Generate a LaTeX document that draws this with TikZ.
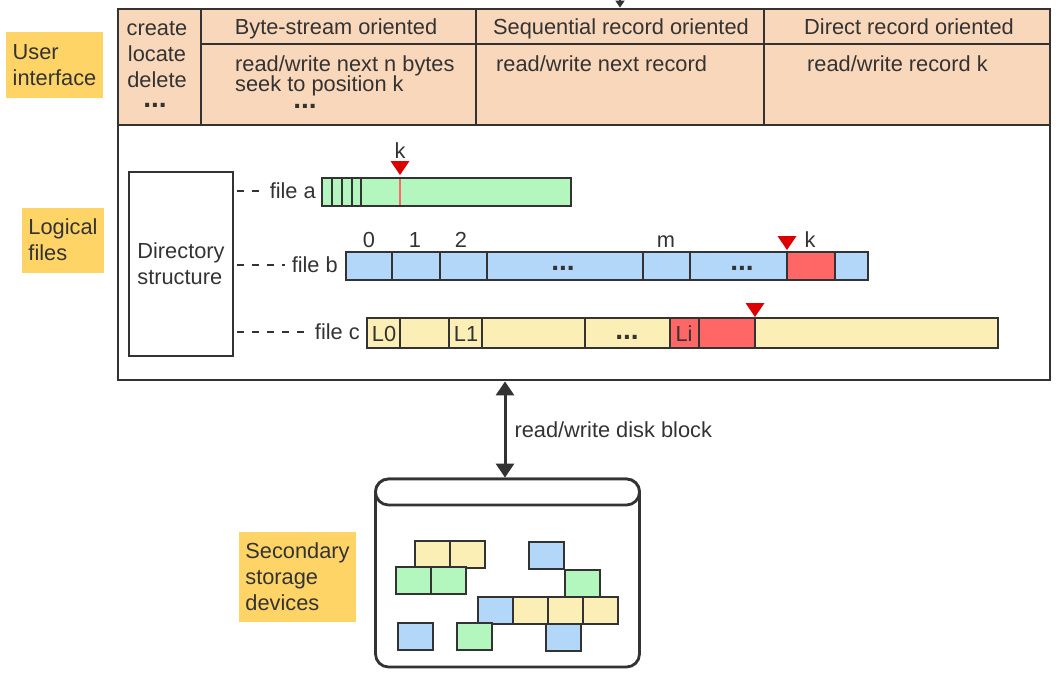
\documentclass[tikz,border=0pt]{standalone}
\usepackage{fontspec}
\setmainfont{Liberation Sans}
\usetikzlibrary{arrows.meta}
\definecolor{ink}{HTML}{333333}
\definecolor{peach}{HTML}{F9D7BA}
\definecolor{tagcol}{HTML}{FFD466}
\definecolor{gcell}{HTML}{B3F7BF}
\definecolor{bcell}{HTML}{B3D7F8}
\definecolor{ycell}{HTML}{FCEFB5}
\definecolor{rcell}{HTML}{FF6666}
\definecolor{pointer}{HTML}{DD0000}

\begin{document}
\begin{tikzpicture}[x=1pt, y=-1pt,
      > = {Triangle[width=18pt,length=14pt]},
  txt/.style = {font=\fontsize{21.8}{26}\selectfont, text=ink, inner sep=0pt},
ellip/.style = {font=\fontsize{28}{28}\bfseries\selectfont, text=ink, inner sep=0pt},
  tag/.style = {txt, fill=tagcol, align=left},
  box/.style = {draw=ink, line width=2.8pt},
 cell/.style = {draw=ink, line width=2.8pt},
 link/.style = {draw=ink, line width=2pt, dash pattern=on 7pt off 8pt},
  ptr/.style = {fill=pointer}
                   ]
\useasboundingbox (0,0) rectangle (1063,685);
% user interface
\fill[peach] (118,9) rectangle (1050,125);
\node[box, minimum width=932pt, minimum height=371pt, inner sep=0pt] (logic) at (584,194.5) {};
\draw[box] (118,125) -- (1050,125);
\draw[box] (201,44) -- (1050,44);
\foreach \x in {201,476,764} \draw[box] (\x,9) -- (\x,125);
\coordinate (top) at (620,-10);
\draw[ink, line width=2pt, -{Triangle[width=9pt,length=7pt]}] (top) -- (top |- logic.north);
\node[txt, anchor=base, align=center] (ops) at (157,87.5) {create\\locate\\delete};% base = last line
\node[ellip, anchor=base] (opsdots) at (155,107.5) {...};
\node[txt, anchor=base] (bytes) at (336,34.5) {Byte-stream oriented};
\node[txt, anchor=base] (seq) at (621,34.5) {Sequential record oriented};
\node[txt, anchor=base] (direct) at (909,34.5) {Direct record oriented};
\node[txt, anchor=base west] (bytesops) at (235,71) {read/write next n bytes};
\node[txt, anchor=base west] (seek) at (235,91.5) {seek to position k};
\node[ellip, anchor=base] (bytedots) at (305,108) {...};
\node[txt, anchor=base west] (seqops) at (496,71) {read/write next record};
\node[txt, anchor=base west] (directops) at (807,71) {read/write record k};
% layer tags
\node[tag, minimum width=97pt, minimum height=65pt] (ui) at (54.5,65) {User\\interface};
\node[tag, minimum width=82pt, minimum height=65pt] (lf) at (63,240) {Logical\\files};
\node[tag, minimum width=117pt, minimum height=90pt] (ssd) at (297.5,576.5) {Secondary\\storage\\devices};
% logical files
\node[box, txt, align=left, minimum width=104pt, minimum height=184pt] (dir) at (181,264) {Directory\\structure};
% file a
\fill[gcell] (322,178) rectangle (571,206);
\foreach \x in {332,342,352,361} \draw[cell] (\x,178) -- (\x,206);
\draw[rcell, line width=2.5pt] (400,178) -- (400,206);
\draw[cell] (322,178) rectangle (571,206);
\fill[ptr] (390.5,161) -- (409.5,161) -- (400,175) -- cycle;
\node[txt, anchor=base] (ka) at (400,158) {k};
\node[txt, anchor=east] (fa) at (316,191) {file a};
\draw[link, shorten <=3pt, shorten >=7pt] (dir.east |- fa.west) -- (fa.west);
% file b
\fill[bcell] (346,252) rectangle (868,280);
\fill[rcell] (787,252) rectangle (835,280);
\foreach \x in {392,440,487,643,690,787,835} \draw[cell] (\x,252) -- (\x,280);
\draw[cell] (346,252) rectangle (868,280);
\foreach \x/\t in {369/0,415/1,461/2,666/m,810/k} \node[txt, anchor=base] (b\t) at (\x,247) {\t};
\node[ellip, anchor=base] (bdots1) at (563,270) {...};
\node[ellip, anchor=base] (bdots2) at (742,270) {...};
\fill[ptr] (777.5,236) -- (796.5,236) -- (787,250) -- cycle;
\node[txt, anchor=east] (fb) at (338,265) {file b};
\draw[link, shorten <=3pt, shorten >=7pt] (dir.east |- fb.west) -- (fb.west);
% file c
\fill[ycell] (367,318) rectangle (998,348);
\fill[rcell] (670,318) rectangle (755,348);
\foreach \x in {400,449,482,585,670,699,755} \draw[cell] (\x,318) -- (\x,348);
\draw[cell] (367,318) rectangle (998,348);
\foreach \x/\t in {384/L0,466/L1,684/Li} \node[txt, anchor=base] (c\t) at (\x,341) {\t};
\node[ellip, anchor=base] (cdots) at (627,339.5) {...};
\fill[ptr] (745.5,303) -- (764.5,303) -- (755,317) -- cycle;
\node[txt, anchor=east] (fc) at (360,332) {file c};
\draw[link, shorten <=3pt, shorten >=10pt] (dir.east |- fc.west) -- (fc.west);
% secondary storage
\node[box, rounded corners=13pt, minimum width=264pt, minimum height=188pt, inner sep=0pt] (disk) at (507.5,573) {};
\node[box, fill=white, rounded corners=13pt, minimum width=264pt, minimum height=26pt, inner sep=0pt] (lid) at (507.5,492) {};
\foreach \x/\y/\c in {415/541/ycell, 450/541/ycell, 396/567/gcell, 431/567/gcell,
                      529/542/bcell, 565/570/gcell,
                      478/597/bcell, 513/597/ycell, 548/597/ycell, 583/597/ycell,
                      398/623/bcell, 457/623/gcell, 546/624/bcell}
  \draw[cell, fill=\c] (\x,\y) rectangle ++(35,27);
\coordinate (io) at (505,0);
\draw[<->, ink, line width=3pt] (logic.south -| io) -- (disk.north -| io)
  node[txt, midway, right=8pt] (rw) {read/write disk block};
\end{tikzpicture}
\end{document}
